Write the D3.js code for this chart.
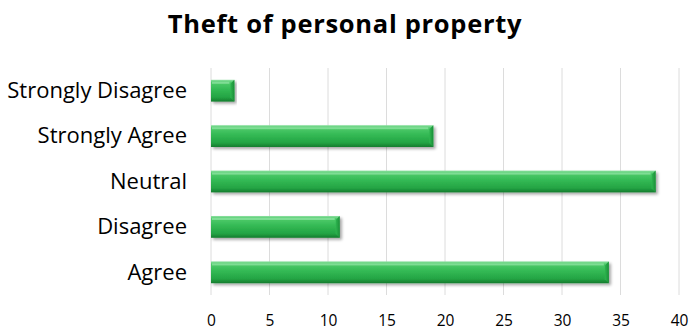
<!DOCTYPE html>
<html>
<head>
<meta charset="utf-8">
<script src="https://cdn.jsdelivr.net/npm/d3@7"></script>
<style>
  html, body { margin: 0; padding: 0; background: #fff; }
  svg { display: block; }
</style>
</head>
<body>
<svg id="chart" width="689" height="331"></svg>
<script>
// Survey responses, listed bottom to top
const categories = ["Agree", "Disagree", "Neutral", "Strongly Agree", "Strongly Disagree"];
const values = [34, 11, 38, 19, 2];
const tickValues = [0, 5, 10, 15, 20, 25, 30, 35, 40];
const chartTitle = "Theft of personal property";

const svg = d3.select("#chart");
const margin = { left: 211, right: 10, top: 68, bottom: 36 };
const W = 689, H = 331;

const x = d3.scaleLinear().domain([0, 40]).range([margin.left, 679]);
const y = d3.scaleBand()
  .domain(categories.slice().reverse())
  .range([margin.top, H - margin.bottom])
  .paddingInner(0.52)
  .paddingOuter(0.26);

const defs = svg.append("defs");
const grad = defs.append("linearGradient")
  .attr("id", "barFill").attr("x1", 0).attr("y1", 0).attr("x2", 0).attr("y2", 1);
[[0, "#8fe0a2"], [0.12, "#4fcb6b"], [0.45, "#33b954"], [0.8, "#24a444"], [1, "#147c2e"]]
  .forEach(([o, c]) => grad.append("stop").attr("offset", o).attr("stop-color", c));

const cap = defs.append("linearGradient")
  .attr("id", "capFill").attr("x1", 0).attr("y1", 0).attr("x2", 1).attr("y2", 0);
[[0, "#2fb650"], [1, "#1b8e38"]]
  .forEach(([o, c]) => cap.append("stop").attr("offset", o).attr("stop-color", c));

const shadow = defs.append("filter").attr("id", "shadow")
  .attr("x", "-5%").attr("y", "-20%").attr("width", "115%").attr("height", "160%");
shadow.append("feGaussianBlur").attr("in", "SourceAlpha").attr("stdDeviation", 1.6);
shadow.append("feOffset").attr("dx", 1.5).attr("dy", 2).attr("result", "off");
shadow.append("feComponentTransfer").append("feFuncA").attr("type", "linear").attr("slope", 0.35);
const merge = shadow.append("feMerge");
merge.append("feMergeNode");
merge.append("feMergeNode").attr("in", "SourceGraphic");

// Title
svg.append("text")
  .attr("x", 345).attr("y", 33)
  .attr("text-anchor", "middle")
  .attr("font-family", "'Open Sans', sans-serif")
  .attr("font-weight", 700)
  .attr("font-size", 25.5)
  .attr("letter-spacing", 0.7)
  .attr("fill", "#000")
  .text(chartTitle);

// Vertical gridlines
svg.append("g").selectAll("line")
  .data(tickValues)
  .join("line")
  .attr("x1", d => x(d)).attr("x2", d => x(d))
  .attr("y1", margin.top).attr("y2", H - margin.bottom)
  .attr("stroke", "#dcdcdc").attr("stroke-width", 1);

// X axis tick labels
const xAxis = d3.axisBottom(x).tickValues(tickValues).tickSize(0).tickPadding(0);
const gx = svg.append("g").attr("transform", `translate(0, ${H - 25})`).call(xAxis);
gx.select(".domain").remove();
gx.selectAll("text")
  .attr("dy", 0)
  .attr("y", 20)
  .attr("font-family", "'Open Sans', sans-serif")
  .attr("font-size", 15.5)
  .attr("fill", "#000");

// Y axis category labels
const yAxis = d3.axisLeft(y).tickSize(0).tickPadding(0);
const gy = svg.append("g").attr("transform", `translate(${187}, 0)`).call(yAxis);
gy.select(".domain").remove();
gy.selectAll("text")
  .attr("dy", "0.33em")
  .attr("font-family", "'Open Sans', sans-serif")
  .attr("font-size", 22)
  .attr("fill", "#000");

// Bars
const rows = categories.map((c, i) => ({ cat: c, val: values[i] }));
const bars = svg.append("g").selectAll("g")
  .data(rows)
  .join("g")
  .attr("filter", "url(#shadow)");

bars.append("rect")
  .attr("x", x(0))
  .attr("y", d => y(d.cat))
  .attr("width", d => x(d.val) - x(0))
  .attr("height", y.bandwidth())
  .attr("fill", "url(#barFill)");

// Bevelled right end
bars.append("path")
  .attr("d", d => {
    const x1 = x(d.val), y0 = y(d.cat), h = y.bandwidth(), b = 4;
    return `M${x1 - b},${y0 + b} L${x1},${y0} L${x1},${y0 + h} L${x1 - b},${y0 + h - b} Z`;
  })
  .attr("fill", "url(#capFill)");

// Thin highlight along the top edge
bars.append("rect")
  .attr("x", x(0) + 1)
  .attr("y", d => y(d.cat) + 2)
  .attr("width", d => Math.max(0, x(d.val) - x(0) - 6))
  .attr("height", 2)
  .attr("fill", "#a8ecb8")
  .attr("opacity", 0.55);
</script>
</body>
</html>
